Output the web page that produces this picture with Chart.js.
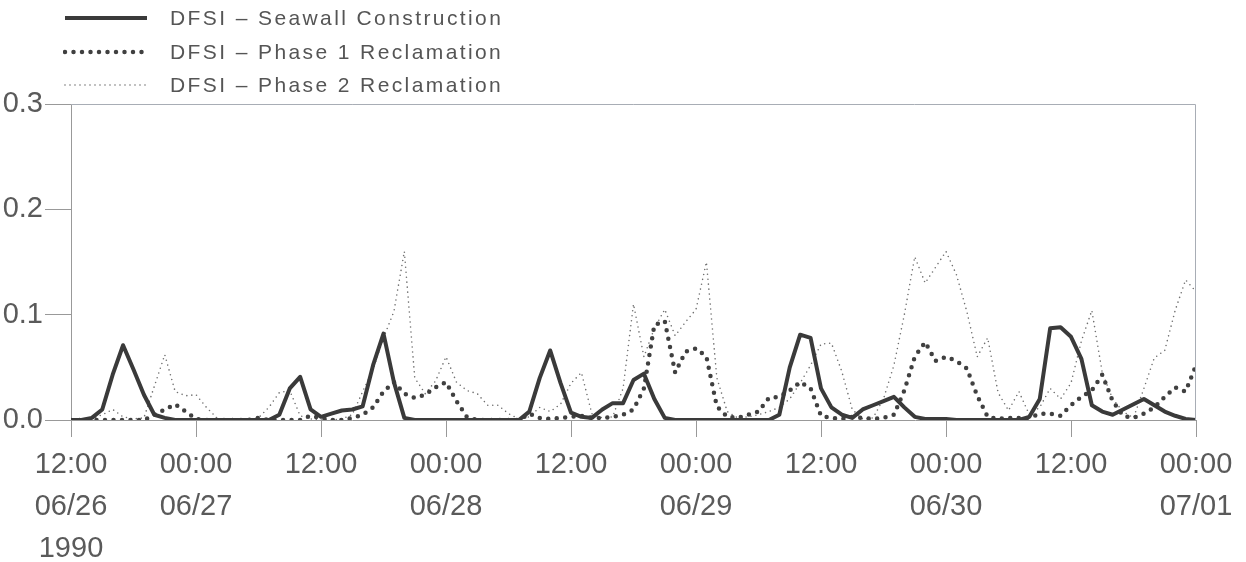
<!DOCTYPE html>
<html>
<head>
<meta charset="utf-8">
<script src="https://cdn.jsdelivr.net/npm/chart.js@4.4.0/dist/chart.umd.min.js"></script>
<style>
  html, body { margin: 0; padding: 0; background: #fff; }
  #wrap { position: relative; width: 1246px; height: 562px; }
  #legend { position: absolute; left: 63px; top: 0; font-family: "Liberation Sans", Arial, sans-serif; font-size: 21px; color: #555; letter-spacing: 2.4px; }
  .row { position: absolute; left: 0; height: 30px; white-space: nowrap; display: flex; align-items: center; }
  .row svg { width: 86px; height: 10px; margin-right: 21px; }
</style>
</head>
<body>
<div id="wrap">
  <canvas id="chart" width="1246" height="562"></canvas>
  <div id="legend"></div>
</div>
<script>
// hourly samples, starting 12:00 06/26/1990
const seriesNames = ['DFSI \u2013 Seawall Construction', 'DFSI \u2013 Phase 1 Reclamation', 'DFSI \u2013 Phase 2 Reclamation'];

const seawall = [
  0, 0, 0.002, 0.01, 0.043, 0.071, 0.048, 0.024, 0.005, 0.002,
  0, 0, 0, 0, 0, 0, 0, 0, 0, 0,
  0.005, 0.03, 0.041, 0.01, 0.003, 0.006, 0.009, 0.01, 0.013, 0.052,
  0.082, 0.036, 0.002, 0, 0, 0, 0, 0, 0, 0,
  0, 0, 0, 0, 0.008, 0.04, 0.066, 0.035, 0.007, 0.003,
  0.002, 0.01, 0.016, 0.016, 0.038, 0.044, 0.02, 0.002, 0, 0,
  0, 0, 0, 0, 0, 0, 0, 0, 0.005, 0.05,
  0.081, 0.078, 0.03, 0.012, 0.005, 0.002, 0.01, 0.014, 0.018, 0.022,
  0.012, 0.003, 0.001, 0.001, 0.001, 0, 0, 0, 0, 0,
  0, 0, 0.003, 0.02, 0.087, 0.088, 0.079, 0.058, 0.014, 0.008,
  0.005, 0.01, 0.015, 0.02, 0.014, 0.008, 0.004, 0.001, 0
];

const phase1 = [
  0, 0, 0, 0, 0, 0, 0, 0, 0.005, 0.01,
  0.015, 0.008, 0.001, 0, 0, 0, 0, 0, 0.002, 0,
  0, 0, 0, 0.004, 0.002, 0, 0, 0.002, 0.005, 0.012,
  0.027, 0.036, 0.025, 0.021, 0.024, 0.031, 0.036, 0.018, 0.003, 0,
  0, 0, 0, 0, 0.006, 0.002, 0.001, 0.002, 0.003, 0.004,
  0.002, 0.002, 0.003, 0.005, 0.01, 0.03, 0.09, 0.094, 0.045, 0.065,
  0.068, 0.06, 0.013, 0.003, 0.002, 0.005, 0.008, 0.021, 0.022, 0.028,
  0.036, 0.03, 0.004, 0.002, 0.001, 0.003, 0.002, 0.001, 0.002, 0.005,
  0.028, 0.06, 0.074, 0.056, 0.06, 0.056, 0.049, 0.023, 0.003, 0.001,
  0.002, 0.002, 0.002, 0.006, 0.006, 0.004, 0.014, 0.022, 0.028, 0.043,
  0.018, 0.004, 0.002, 0.006, 0.012, 0.022, 0.031, 0.027, 0.052
];

const phase2 = [
  0, 0, 0.001, 0.005, 0.01, 0.003, 0.001, 0.002, 0.032, 0.062,
  0.027, 0.023, 0.024, 0.012, 0.002, 0, 0, 0, 0.002, 0.012,
  0.026, 0.028, 0.004, 0.001, 0, 0, 0.001, 0.005, 0.027, 0.048,
  0.078, 0.103, 0.16, 0.04, 0.025, 0.037, 0.06, 0.036, 0.028, 0.025,
  0.014, 0.014, 0.006, 0.001, 0.003, 0.012, 0.008, 0.015, 0.035, 0.045,
  0.006, 0.002, 0.003, 0.03, 0.11, 0.06, 0.087, 0.105, 0.08, 0.093,
  0.105, 0.15, 0.04, 0.008, 0.002, 0.003, 0.005, 0.008, 0.012, 0.02,
  0.035, 0.052, 0.072, 0.073, 0.046, 0.01, 0.001, 0.002, 0.02, 0.052,
  0.1, 0.155, 0.13, 0.145, 0.16, 0.138, 0.103, 0.06, 0.078, 0.026,
  0.009, 0.027, 0.005, 0.012, 0.03, 0.02, 0.035, 0.075, 0.104, 0.045,
  0.02, 0.008, 0.002, 0.03, 0.059, 0.066, 0.104, 0.133, 0.122
];

// x tick every 12 hours
const tickLabels = [
  ['12:00', '06/26', '1990'],
  ['00:00', '06/27'],
  ['12:00'],
  ['00:00', '06/28'],
  ['12:00'],
  ['00:00', '06/29'],
  ['12:00'],
  ['00:00', '06/30'],
  ['12:00'],
  ['00:00', '07/01']
];
const yTicks = [0, 0.1, 0.2, 0.3];

const styles = [
  { color: '#3a3a3a', width: 4, dash: [], cap: 'round' },
  { color: '#404040', width: 4.5, dash: [0, 8.5], cap: 'round' },
  { color: '#707070', width: 1.6, dash: [0, 5], cap: 'round' }
];

const toPoints = arr => arr.map((v, i) => ({ x: i, y: v }));

// legend in html
const legend = document.getElementById('legend');
seriesNames.forEach((name, i) => {
  const s = styles[i];
  const row = document.createElement('div');
  row.className = 'row';
  row.style.top = (3 + i * 33.5) + 'px';
  row.innerHTML = '<svg viewBox="0 0 86 10"><line x1="2" y1="5" x2="84" y2="5" stroke="' + s.color +
    '" stroke-width="' + s.width + '" stroke-linecap="' + (s.dash.length ? 'round' : 'butt') +
    '" stroke-dasharray="' + (s.dash.length ? s.dash.join(' ') : 'none') + '"/></svg><span>' + name + '</span>';
  legend.appendChild(row);
});

const frame = {
  id: 'frame',
  afterDraw(chart) {
    const { ctx, chartArea: a } = chart;
    ctx.save();
    ctx.strokeStyle = '#a8adb5';
    ctx.lineWidth = 1;
    ctx.beginPath();
    ctx.moveTo(a.left, a.top + 0.5);
    ctx.lineTo(a.right - 0.5, a.top + 0.5);
    ctx.lineTo(a.right - 0.5, a.bottom);
    ctx.stroke();
    ctx.restore();
  }
};

const tickFont = { family: '"Liberation Sans", Arial, sans-serif', size: 29, lineHeight: 1.45 };

new Chart(document.getElementById('chart'), {
  type: 'line',
  data: {
    datasets: [seawall, phase1, phase2].map((arr, i) => ({
      label: seriesNames[i],
      data: toPoints(arr),
      borderColor: styles[i].color,
      borderWidth: styles[i].width,
      borderDash: styles[i].dash,
      borderCapStyle: styles[i].cap,
      borderJoinStyle: 'round',
      pointRadius: 0,
      tension: 0,
      fill: false
    }))
  },
  options: {
    responsive: false,
    animation: false,
    layout: { padding: { top: 104, right: 50, left: 0, bottom: 0 } },
    plugins: { legend: { display: false }, tooltip: { enabled: false } },
    scales: {
      x: {
        type: 'linear',
        min: 0,
        max: 108,
        offset: false,
        afterFit: s => { s.height = 142; },
        border: { color: '#999', width: 1 },
        grid: { drawOnChartArea: false, drawTicks: true, tickLength: 17, color: '#999' },
        ticks: {
          stepSize: 12,
          autoSkip: false,
          maxRotation: 0,
          padding: 7,
          color: '#5a5a5a',
          font: tickFont,
          callback: v => tickLabels[v / 12]
        }
      },
      y: {
        min: 0,
        max: 0.3,
        afterFit: s => { s.width = 71; },
        afterBuildTicks: s => { s.ticks = yTicks.map(v => ({ value: v })); },
        border: { color: '#999', width: 1 },
        grid: { drawOnChartArea: false, drawTicks: true, tickLength: 26, color: '#999' },
        ticks: {
          padding: 2,
          color: '#5a5a5a',
          font: tickFont,
          callback: v => v.toFixed(1)
        }
      }
    }
  },
  plugins: [frame]
});
</script>
</body>
</html>
